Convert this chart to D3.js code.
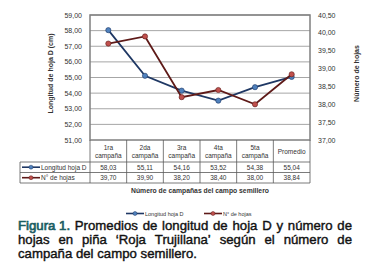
<!DOCTYPE html>
<html>
<head>
<meta charset="utf-8">
<script src="https://cdn.jsdelivr.net/npm/d3@7"></script>
<style>
  body { margin: 0; background: #fff; }
  text { font-family: "Liberation Sans", Arial, sans-serif; }
</style>
</head>
<body>
<div id="chart"></div>
<script>
// chart data
const categories = ["1ra\ncampaña", "2da\ncampaña", "3ra\ncampaña", "4ta\ncampaña", "5ta\ncampaña", "Promedio"];
const longitud = [58.03, 55.11, 54.16, 53.52, 54.38, 55.04];
const hojas = [39.70, 39.90, 38.20, 38.40, 38.00, 38.84];
const longitudLabels = ["58,03", "55,11", "54,16", "53,52", "54,38", "55,04"];
const hojasLabels = ["39,70", "39,90", "38,20", "38,40", "38,00", "38,84"];
const leftTicks = [51, 52, 53, 54, 55, 56, 57, 58, 59];
const rightTicks = [37, 37.5, 38, 38.5, 39, 39.5, 40, 40.5];
const seriesNames = ["Longitud hoja D", "N° de hojas"];

const W = 378, H = 272;
const plot = {left: 90, right: 310, top: 15, bottom: 140};
const blueLine = "#1f3864", blueDot = "#4f81bd";
const redLine = "#5e1a18", redDot = "#c0504d";

const svg = d3.select("#chart").append("svg")
  .attr("width", W).attr("height", H);

const x = d3.scaleBand().domain(d3.range(categories.length))
  .range([plot.left, plot.right]);
const yL = d3.scaleLinear().domain([51, 59]).range([plot.bottom, plot.top]);
const yR = d3.scaleLinear().domain([37, 40.5]).range([plot.bottom, plot.top]);
const fmt = v => d3.format(".2f")(v).replace(".", ",");

// gridlines
svg.append("g").selectAll("line").data(leftTicks.slice(1)).enter()
  .append("line")
    .attr("x1", plot.left).attr("x2", plot.right)
    .attr("y1", d => yL(d)).attr("y2", d => yL(d))
    .attr("stroke", "#a6a6a6").attr("stroke-width", 1);

// plot border
svg.append("rect")
  .attr("x", plot.left).attr("y", plot.top)
  .attr("width", plot.right - plot.left).attr("height", plot.bottom - plot.top)
  .attr("fill", "none").attr("stroke", "#7f7f7f").attr("stroke-width", 1.5);

// left axis labels
svg.append("g").selectAll("text").data(leftTicks).enter()
  .append("text")
    .attr("x", 82).attr("y", d => yL(d) + 2.5)
    .attr("text-anchor", "end").attr("font-size", 7).attr("fill", "#333")
    .text(fmt);

// right axis labels
svg.append("g").selectAll("text").data(rightTicks).enter()
  .append("text")
    .attr("x", 318).attr("y", d => yR(d) + 2.5)
    .attr("font-size", 7).attr("fill", "#333")
    .text(fmt);

// axis titles
svg.append("text")
  .attr("transform", "translate(53," + ((plot.top + plot.bottom) / 2 - 4) + ") rotate(-90)")
  .attr("text-anchor", "middle").attr("font-size", 7).attr("font-weight", "bold")
  .attr("fill", "#333").text("Longitud de hoja D (cm)");
svg.append("text")
  .attr("transform", "translate(359," + ((plot.top + plot.bottom) / 2 - 4) + ") rotate(-90)")
  .attr("text-anchor", "middle").attr("font-size", 7).attr("font-weight", "bold")
  .attr("fill", "#333").text("Número de hojas");

// series
function drawSeries(values, y, lineColor, dotColor) {
  const cx = i => x(i) + x.bandwidth() / 2;
  svg.append("path")
    .datum(values)
    .attr("d", d3.line().x((d, i) => cx(i)).y(d => y(d)))
    .attr("fill", "none").attr("stroke", lineColor).attr("stroke-width", 1.8);
  svg.append("g").selectAll("circle").data(values).enter()
    .append("circle")
      .attr("cx", (d, i) => cx(i)).attr("cy", d => y(d)).attr("r", 2.6)
      .attr("fill", dotColor).attr("stroke", lineColor).attr("stroke-width", 0.6);
}
drawSeries(longitud, yL, blueLine, blueDot);
drawSeries(hojas, yR, redLine, redDot);

// data table
const rowTop = [plot.bottom, 162, 172.5, 183];
const tbl = svg.append("g").attr("stroke", "#595959").attr("stroke-width", 0.8);
// vertical lines
x.domain().forEach(i => {
  tbl.append("line").attr("x1", x(i)).attr("x2", x(i))
    .attr("y1", rowTop[0]).attr("y2", rowTop[3]);
});
tbl.append("line").attr("x1", plot.right).attr("x2", plot.right)
  .attr("y1", rowTop[0]).attr("y2", rowTop[3]);
tbl.append("line").attr("x1", 20).attr("x2", 20)
  .attr("y1", rowTop[1]).attr("y2", rowTop[3]);
// horizontal lines
[1, 2, 3].forEach(r => {
  tbl.append("line").attr("x1", 20).attr("x2", plot.right)
    .attr("y1", rowTop[r]).attr("y2", rowTop[r]);
});

// header text
categories.forEach((c, i) => {
  const parts = c.split("\n");
  const cx = x(i) + x.bandwidth() / 2;
  parts.forEach((p, j) => {
    svg.append("text")
      .attr("x", cx)
      .attr("y", parts.length === 1 ? 153.5 : 149.5 + j * 8)
      .attr("text-anchor", "middle").attr("font-size", 6.5).attr("fill", "#333")
      .text(p);
  });
});

// row values
[longitudLabels, hojasLabels].forEach((labels, r) => {
  svg.append("g").selectAll("text").data(labels).enter()
    .append("text")
      .attr("x", (d, i) => x(i) + x.bandwidth() / 2)
      .attr("y", rowTop[r + 1] + 7.5)
      .attr("text-anchor", "middle").attr("font-size", 6.5).attr("fill", "#333")
      .text(d => d);
});

// legend key symbol
function keySymbol(g, x0, y0, lineColor, dotColor) {
  g.append("line").attr("x1", x0).attr("x2", x0 + 18)
    .attr("y1", y0).attr("y2", y0)
    .attr("stroke", lineColor).attr("stroke-width", 1.6);
  g.append("circle").attr("cx", x0 + 9).attr("cy", y0).attr("r", 2)
    .attr("fill", dotColor).attr("stroke", lineColor).attr("stroke-width", 0.5);
}

// row headers
[[blueLine, blueDot], [redLine, redDot]].forEach((c, r) => {
  const yy = rowTop[r + 1] + 5.2;
  keySymbol(svg, 22, yy, c[0], c[1]);
  svg.append("text").attr("x", 41).attr("y", yy + 2.3)
    .attr("font-size", 6.5).attr("fill", "#333").text(seriesNames[r]);
});

// x axis title
svg.append("text")
  .attr("x", 200).attr("y", 193)
  .attr("text-anchor", "middle").attr("font-size", 6.8).attr("font-weight", "bold")
  .attr("fill", "#333").text("Número de campañas del campo semillero");

// bottom legend
const lg = svg.append("g");
keySymbol(lg, 126, 213.5, blueLine, blueDot);
lg.append("text").attr("x", 145).attr("y", 215.5).attr("font-size", 5.5)
  .attr("fill", "#333").text(seriesNames[0]);
keySymbol(lg, 204, 213.5, redLine, redDot);
lg.append("text").attr("x", 223).attr("y", 215.5).attr("font-size", 5.5)
  .attr("fill", "#333").text(seriesNames[1]);

// caption, justified
const captionLines = [
  [{t: "Figura 1.", fig: true}, "Promedios", "de", "longitud", "de", "hoja", "D", "y", "número", "de"],
  ["hojas", "en", "piña", "‘Roja", "Trujillana’", "según", "el", "número", "de"],
  ["campaña", "del", "campo", "semillero."]
];
const capLeft = 18, capRight = 352, capSize = 13.2;
const cap = svg.append("g").attr("font-size", capSize);
captionLines.forEach((words, li) => {
  const yy = 230 + li * 14;
  const items = words.map(w => typeof w === "string" ? {t: w} : w);
  const nodes = items.map(it => cap.append("text")
    .attr("y", yy)
    .attr("fill", it.fig ? "#1b5e63" : "#111")
    .attr("stroke", it.fig ? "#1b5e63" : "#111")
    .attr("stroke-width", it.fig ? 0.7 : 0.4)
    .text(it.t));
  const widths = nodes.map(n => n.node().getComputedTextLength());
  const total = d3.sum(widths);
  const last = li === captionLines.length - 1;
  const gap = last ? capSize * 0.28 : (capRight - capLeft - total) / (nodes.length - 1);
  let cx = capLeft;
  nodes.forEach((n, i) => {
    n.attr("x", cx);
    cx += widths[i] + gap;
  });
});
</script>
</body>
</html>
